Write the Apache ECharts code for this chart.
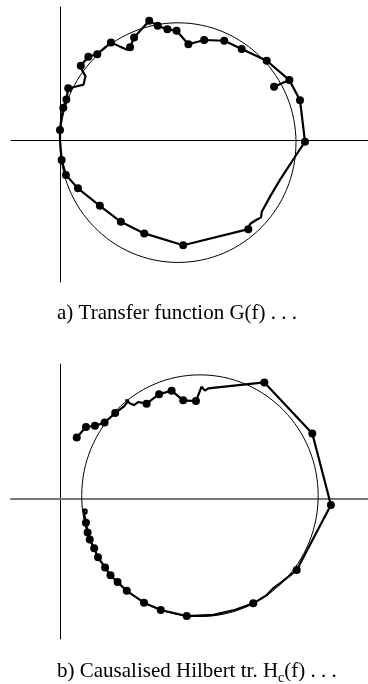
<!DOCTYPE html>
<html>
<head>
<meta charset="utf-8">
<script src="https://cdn.jsdelivr.net/npm/echarts@6/dist/echarts.min.js"></script>
<style>
  html, body { margin: 0; padding: 0; background: #fff; }
  #chart { width: 368px; height: 684px; }
</style>
</head>
<body>
<div id="chart"></div>
<script>
// a) Transfer function G(f): real and imaginary parts along the measured path
const reA = [0.907,0.972,1.017,1.038,0.996,0.932,0.890,0.855,0.852,0.831,0.805,0.798,0.522,0.357,0.258,0.169,0.076,0.025,0.007,0.000,0.000,0.006,0.014,0.027,0.035,0.068,0.100,0.108,0.093,0.088,0.120,0.158,0.216,0.254,0.284,0.297,0.314,0.378,0.414,0.455,0.494,0.544,0.611,0.696,0.770,0.876,0.972];
const imA = [0.226,0.254,0.169,-0.007,-0.071,-0.169,-0.240,-0.304,-0.328,-0.339,-0.356,-0.378,-0.446,-0.396,-0.347,-0.279,-0.205,-0.148,-0.085,0.000,0.042,0.093,0.137,0.172,0.219,0.227,0.235,0.271,0.297,0.315,0.353,0.364,0.414,0.396,0.383,0.393,0.435,0.506,0.484,0.470,0.463,0.406,0.424,0.421,0.386,0.336,0.254];
// 1 = sampled frequency shown with a dot
const dotA = [1,1,1,1,0,0,0,0,0,0,0,1,1,1,1,1,1,1,1,0,1,0,1,1,1,0,0,0,0,1,1,1,1,0,0,1,1,1,1,1,1,1,1,1,1,1,0];
// fitted circle: centre re, centre im, radius re, radius im
const circleA = [0.500, -0.011, 0.500, 0.508];

// b) Causalised Hilbert transform Hc(f)
const reB = [0.071,0.110,0.148,0.189,0.234,0.271,0.290,0.278,0.297,0.314,0.331,0.367,0.420,0.473,0.522,0.576,0.600,0.614,0.628,0.866,1.069,1.148,1.003,0.936,0.903,0.876,0.819,0.734,0.650,0.537,0.427,0.356,0.283,0.244,0.214,0.191,0.161,0.145,0.126,0.117,0.110,0.104,0.100,0.113,0.112,0.102];
const imB = [0.261,0.305,0.310,0.324,0.364,0.392,0.417,0.419,0.405,0.398,0.411,0.404,0.444,0.459,0.418,0.415,0.476,0.459,0.469,0.494,0.278,-0.025,-0.301,-0.354,-0.379,-0.407,-0.442,-0.472,-0.491,-0.496,-0.470,-0.439,-0.389,-0.352,-0.323,-0.290,-0.247,-0.209,-0.172,-0.142,-0.101,-0.072,-0.044,-0.046,-0.061,-0.059];
const dotB = [1,1,1,1,1,0,0,0,0,0,0,1,1,1,1,1,0,0,0,1,1,1,1,0,0,0,1,0,0,1,1,1,1,1,1,1,1,1,1,1,1,0,0,0,0,0];
const circleB = [0.593, 0.014, 0.501, 0.512];

const captionA = 'a) Transfer function G(f) . . .';
const captionB = ['b) Causalised Hilbert tr. H', 'c', '(f) . . .'];

const pairs = (re, im) => re.map((x, i) => [x, im[i]]);
const dots = (re, im, flag) => pairs(re, im).filter((p, i) => flag[i] === 1);

function circleSeries(idx, c) {
  return {
    type: 'custom',
    xAxisIndex: idx, yAxisIndex: idx,
    data: [c],
    encode: { x: 0, y: 1 },
    silent: true,
    z: 1,
    renderItem: function (params, api) {
      const p = api.coord([api.value(0), api.value(1)]);
      const s = api.size([api.value(2), api.value(3)]);
      return {
        type: 'ellipse',
        shape: { cx: p[0], cy: p[1], rx: s[0], ry: s[1] },
        style: { fill: null, stroke: '#000', lineWidth: 1 }
      };
    }
  };
}

function pathSeries(idx, re, im) {
  return {
    type: 'line', xAxisIndex: idx, yAxisIndex: idx,
    data: pairs(re, im), symbol: 'none', smooth: false, z: 2,
    lineStyle: { color: '#000', width: 2.2 }
  };
}

function dotSeries(idx, re, im, flag) {
  return {
    type: 'scatter', xAxisIndex: idx, yAxisIndex: idx,
    data: dots(re, im, flag), symbol: 'circle', symbolSize: 8, z: 3,
    itemStyle: { color: '#000', opacity: 1 }
  };
}

const plainAxis = (idx, min, max, color, width) => ({
  type: 'value', gridIndex: idx, min: min, max: max,
  axisLine: { show: true, onZero: true, lineStyle: { color: color, width: width } },
  axisTick: { show: false }, axisLabel: { show: false }, splitLine: { show: false }
});

const chart = echarts.init(document.getElementById('chart'), null, { renderer: 'canvas' });
chart.setOption({
  animation: false,
  backgroundColor: '#fff',
  grid: [
    { left: 11, top: 7, width: 357, height: 275 },
    { left: 11, top: 364, width: 357, height: 275 }
  ],
  xAxis: [
    plainAxis(0, -0.2076, 1.3051, '#000', 1),
    plainAxis(1, -0.2076, 1.3051, '#777', 2)
  ],
  yAxis: [
    plainAxis(0, -0.602, 0.564, '#000', 1),
    plainAxis(1, -0.593, 0.572, '#000', 1)
  ],
  series: [
    circleSeries(0, circleA), pathSeries(0, reA, imA), dotSeries(0, reA, imA, dotA),
    circleSeries(1, circleB), pathSeries(1, reB, imB), dotSeries(1, reB, imB, dotB)
  ],
  graphic: [
    {
      type: 'text', left: 57, top: 303,
      style: {
        text: captionA, x: 0, y: 0,
        font: '21px "Liberation Serif", "Times New Roman", serif', fill: '#000'
      }
    },
    {
      type: 'text', left: 57, top: 661,
      style: {
        text: '{n|' + captionB[0] + '}{s|' + captionB[1] + '}{n|' + captionB[2] + '}',
        rich: {
          n: { fontFamily: '"Liberation Serif", serif', fontSize: 21, lineHeight: 24, verticalAlign: 'bottom', fill: '#000' },
          s: { fontFamily: '"Liberation Serif", serif', fontSize: 14, lineHeight: 24, verticalAlign: 'bottom', padding: [0, 0, -3, 0], fill: '#000' }
        }
      }
    }
  ]
});
</script>
</body>
</html>
